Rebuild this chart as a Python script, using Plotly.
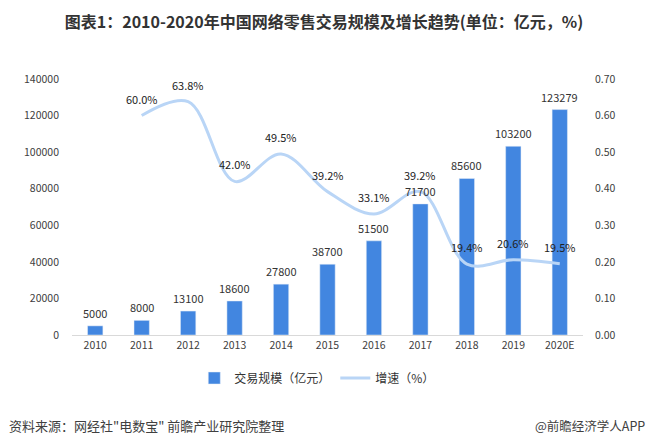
import plotly.graph_objects as go

years = ["2010", "2011", "2012", "2013", "2014", "2015", "2016", "2017", "2018", "2019", "2020E"]
scale = [5000, 8000, 13100, 18600, 27800, 38700, 51500, 71700, 85600, 103200, 123279]
growth_years = ["2011", "2012", "2013", "2014", "2015", "2016", "2017", "2018", "2019", "2020E"]
growth = [0.600, 0.638, 0.420, 0.495, 0.392, 0.331, 0.392, 0.194, 0.206, 0.195]

FONT = "Noto Sans CJK SC, Liberation Sans, sans-serif"

fig = go.Figure()
fig.add_trace(go.Bar(
    x=years, y=scale, name="交易规模（亿元）",
    marker=dict(color="#4286E0"),
))
fig.add_trace(go.Scatter(
    x=growth_years, y=growth, name="增速（%）", yaxis="y2",
    mode="lines",
    line=dict(color="#B9D5F6", width=3, shape="spline", smoothing=1.0),
    cliponaxis=False,
))

# data labels positioned from the data values (category index on the x axis)
for xv, v in zip(years, scale):
    fig.add_annotation(x=years.index(xv), y=v, xref="x", yref="y", text=str(v), showarrow=False,
                       yanchor="middle", yshift=13,
                       font=dict(size=11, color="#333333", family=FONT))
for xv, g in zip(growth_years, growth):
    fig.add_annotation(x=years.index(xv), y=g, xref="x", yref="y2", text=f"{g*100:.1f}%",
                       showarrow=False, yanchor="middle", yshift=17,
                       font=dict(size=11, color="#222222", family=FONT))

fig.update_layout(
    width=648, height=446,
    margin=dict(l=72, r=65, t=79, b=111),
    paper_bgcolor="white", plot_bgcolor="white",
    font=dict(family=FONT, size=10.5, color="#404040"),
    bargap=0.67,
    showlegend=True,
    legend=dict(orientation="h", x=0.48, xanchor="center", y=-0.168, yanchor="middle",
                font=dict(size=12, color="#333333"), itemwidth=30, traceorder="normal"),
    title=dict(text="<b>图表1：2010-2020年中国网络零售交易规模及增长趋势(单位：亿元，%)</b>",
               x=0.5, xanchor="center", y=1 - 22 / 446, yanchor="middle",
               font=dict(size=16, color="#333333", family=FONT)),
    xaxis=dict(type="category", categoryorder="array", categoryarray=years,
               range=[-0.5, len(years) - 0.5],
               showgrid=False, showline=True, linecolor="#D9D9D9",
               ticks="", tickfont=dict(size=10.5, color="#404040")),
    yaxis=dict(range=[0, 140000], dtick=20000, showgrid=False, zeroline=False,
               showline=False, ticks="", tickformat="d", ticklabelstandoff=12,
               tickfont=dict(size=10.5, color="#404040")),
    yaxis2=dict(range=[0, 0.70], dtick=0.1, overlaying="y", side="right",
                showgrid=False, zeroline=False, showline=False, tickformat=".2f",
                ticks="", ticklabelstandoff=11, tickfont=dict(size=10.5, color="#404040")),
)

fig.add_annotation(text="资料来源：网经社\"电数宝\" 前瞻产业研究院整理",
                   xref="paper", yref="paper", x=(7 - 72) / 511, y=(335 - 425) / 256,
                   xanchor="left", yanchor="middle", showarrow=False,
                   font=dict(size=13, color="#404040", family=FONT))
fig.add_annotation(text="@前瞻经济学人APP",
                   xref="paper", yref="paper", x=(647 - 72) / 511, y=(335 - 425) / 256,
                   xanchor="right", yanchor="middle", showarrow=False,
                   font=dict(size=12.5, color="#404040", family=FONT))

fig.write_html("out.html", config={"displayModeBar": False},
               post_script="document.body.style.margin='0';document.body.style.overflow='hidden';")
